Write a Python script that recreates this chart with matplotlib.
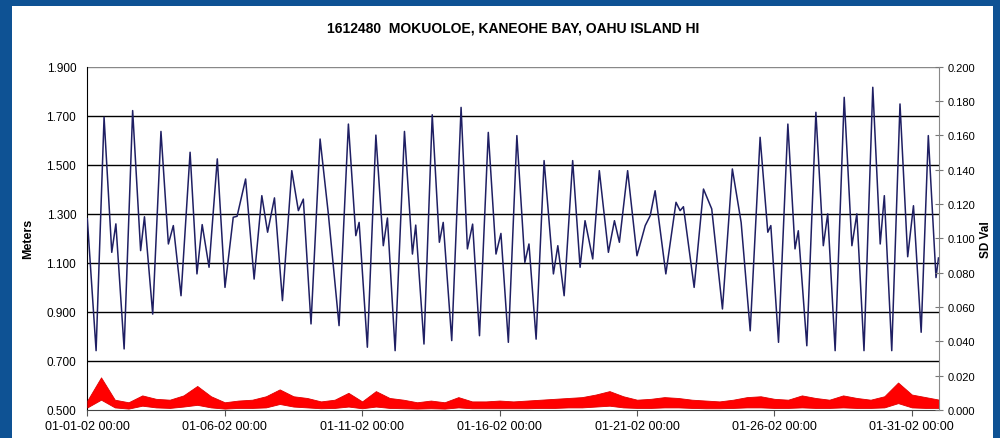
import matplotlib
matplotlib.use("Agg")
import matplotlib.pyplot as plt
from matplotlib.patches import Rectangle

# water level (days since 01-01-02 00:00, meters)
tide_days = [0.0, 0.32, 0.61, 0.89, 1.04, 1.34, 1.65, 1.94, 2.08, 2.38, 2.68, 2.95, 3.13,
             3.41, 3.74, 3.99, 4.18, 4.43, 4.73, 5.01, 5.31, 5.45, 5.76, 6.07, 6.35, 6.56,
             6.81, 7.10, 7.44, 7.68, 7.86, 8.14, 8.47, 8.77, 9.16, 9.50, 9.77, 9.89, 10.19,
             10.50, 10.77, 10.92, 11.20, 11.54, 11.83, 11.95, 12.25, 12.55, 12.81, 12.95,
             13.26, 13.60, 13.83, 14.02, 14.27, 14.59, 14.87, 15.05, 15.32, 15.63, 15.92,
             16.07, 16.33, 16.62, 16.96, 17.12, 17.35, 17.66, 17.93, 18.11, 18.39, 18.63,
             18.96, 19.18, 19.36, 19.66, 20.00, 20.30, 20.48, 20.66, 21.05, 21.42, 21.57,
             21.69, 22.08, 22.42, 22.72, 23.11, 23.47, 23.79, 24.12, 24.48, 24.76, 24.87,
             25.15, 25.49, 25.75, 25.87, 26.18, 26.51, 26.78, 26.94, 27.21, 27.54, 27.82,
             28.00, 28.26, 28.58, 28.85, 29.00, 29.27, 29.57, 29.85, 30.06, 30.34, 30.60,
             30.88, 30.97]
tide_m = [1.28, 0.742, 1.694, 1.143, 1.259, 0.749, 1.721, 1.150, 1.288, 0.891, 1.636, 1.177,
          1.252, 0.966, 1.551, 1.055, 1.256, 1.082, 1.524, 1.000, 1.286, 1.290, 1.442, 1.034,
          1.374, 1.225, 1.365, 0.946, 1.476, 1.313, 1.360, 0.851, 1.605, 1.300, 0.844, 1.666,
          1.211, 1.265, 0.756, 1.621, 1.170, 1.283, 0.742, 1.636, 1.136, 1.254, 0.769, 1.704,
          1.184, 1.265, 0.783, 1.734, 1.157, 1.258, 0.803, 1.632, 1.136, 1.220, 0.776, 1.619,
          1.102, 1.177, 0.789, 1.517, 1.055, 1.170, 0.966, 1.517, 1.082, 1.272, 1.116, 1.476,
          1.143, 1.272, 1.184, 1.476, 1.129, 1.252, 1.292, 1.394, 1.055, 1.347, 1.313, 1.329,
          1.000, 1.401, 1.320, 0.912, 1.483, 1.265, 0.823, 1.612, 1.225, 1.252, 0.776, 1.666,
          1.157, 1.231, 0.762, 1.714, 1.170, 1.300, 0.742, 1.775, 1.170, 1.300, 0.742, 1.816,
          1.177, 1.374, 0.742, 1.748, 1.125, 1.333, 0.817, 1.619, 1.040, 1.120]

# SD value band (half-day steps), low and high edge of the red trace
sd_days = [i * 0.5 for i in range(63)]
sd_high = [0.0055, 0.0190, 0.0060, 0.0045, 0.0085, 0.0065, 0.0060, 0.0085, 0.0140, 0.0080,
           0.0045, 0.0055, 0.0060, 0.0080, 0.0120, 0.0080, 0.0070, 0.0050, 0.0060, 0.0100,
           0.0050, 0.0110, 0.0070, 0.0060, 0.0045, 0.0055, 0.0045, 0.0075, 0.0050, 0.0050,
           0.0055, 0.0050, 0.0055, 0.0060, 0.0065, 0.0070, 0.0075, 0.0090, 0.0110, 0.0080,
           0.0060, 0.0065, 0.0075, 0.0070, 0.0060, 0.0055, 0.0050, 0.0060, 0.0075, 0.0080,
           0.0065, 0.0060, 0.0085, 0.0070, 0.0060, 0.0085, 0.0070, 0.0060, 0.0080, 0.0160,
           0.0090, 0.0075, 0.0060]
sd_low = [0.0015, 0.0060, 0.0015, 0.0008, 0.0025, 0.0015, 0.0012, 0.0020, 0.0030, 0.0015,
          0.0008, 0.0012, 0.0012, 0.0015, 0.0035, 0.0020, 0.0015, 0.0010, 0.0012, 0.0020,
          0.0010, 0.0020, 0.0012, 0.0010, 0.0008, 0.0010, 0.0008, 0.0015, 0.0010, 0.0010,
          0.0010, 0.0010, 0.0010, 0.0012, 0.0012, 0.0015, 0.0015, 0.0020, 0.0025, 0.0015,
          0.0012, 0.0012, 0.0015, 0.0015, 0.0012, 0.0010, 0.0010, 0.0012, 0.0015, 0.0015,
          0.0012, 0.0012, 0.0015, 0.0012, 0.0012, 0.0015, 0.0012, 0.0012, 0.0015, 0.0040,
          0.0015, 0.0012, 0.0012]

tick_days = [0, 5, 10, 15, 20, 25, 30]
tick_labels = ["01-01-02 00:00", "01-06-02 00:00", "01-11-02 00:00", "01-16-02 00:00",
               "01-21-02 00:00", "01-26-02 00:00", "01-31-02 00:00"]
left_ticks = [0.5, 0.7, 0.9, 1.1, 1.3, 1.5, 1.7, 1.9]
right_ticks = [i * 0.02 for i in range(11)]

frame_blue = "#0e5294"
tick_font = ["Liberation Sans", "DejaVu Sans"]
narrow_font = ["Liberation Sans Narrow", "Liberation Sans", "DejaVu Sans"]

fig = plt.figure(figsize=(10, 4.39), dpi=100, facecolor=frame_blue)
fig.patches.append(Rectangle((0.012, 0.0), 0.981, 0.984, transform=fig.transFigure,
                             facecolor="white", edgecolor="none", zorder=-10))

ax = fig.add_axes([0.0873, 0.0638, 0.852, 0.782])
ax.set_facecolor("white")
ax.set_xlim(0, 31)
ax.set_ylim(0.5, 1.9)
ax.set_yticks(left_ticks)
ax.set_yticklabels([f"{v:.3f}" for v in left_ticks], fontsize=8.5, family=tick_font)
ax.set_xticks(tick_days)
ax.set_xticklabels(tick_labels, fontsize=9, family=tick_font)
ax.tick_params(axis="x", direction="out", length=4, color="#555555", pad=3)
ax.tick_params(axis="y", direction="out", length=0, pad=8)
for v in left_ticks[1:-1]:
    ax.axhline(v, color="black", lw=1.0, zorder=1)
ax.axhline(1.9, color="#888888", lw=1.0, zorder=1)
for side in ["top", "right"]:
    ax.spines[side].set_visible(False)
ax.spines["left"].set_color("black")
ax.spines["bottom"].set_color("#444444")
ax.set_ylabel("Meters", fontsize=9, fontweight="bold", family=narrow_font)
ax.yaxis.set_label_coords(-0.062, 0.5)

ax.plot(tide_days, tide_m, color="#1f1f63", lw=1.1, zorder=3)

ax2 = ax.twinx()
ax2.set_ylim(0, 0.2)
ax2.set_yticks(right_ticks)
ax2.set_yticklabels([f"{v:.3f}" for v in right_ticks], fontsize=8, family=tick_font)
ax2.tick_params(axis="y", direction="inout", length=6, color="#777777", pad=3)
for side in ["top", "left", "bottom"]:
    ax2.spines[side].set_visible(False)
ax2.spines["right"].set_color("#888888")
ax2.set_ylabel("SD Val", fontsize=8.5, fontweight="bold", family=narrow_font)
ax2.yaxis.set_label_coords(1.048, 0.5)
ax2.fill_between(sd_days, sd_low, sd_high, facecolor="#ff0000", lw=0.6, edgecolor="#e00000")

fig.text(0.513, 0.934, "1612480  MOKUOLOE, KANEOHE BAY, OAHU ISLAND HI", ha="center",
         va="center", fontsize=10, fontweight="bold", family=narrow_font)

fig.savefig("out.png", dpi=100, facecolor=frame_blue)
